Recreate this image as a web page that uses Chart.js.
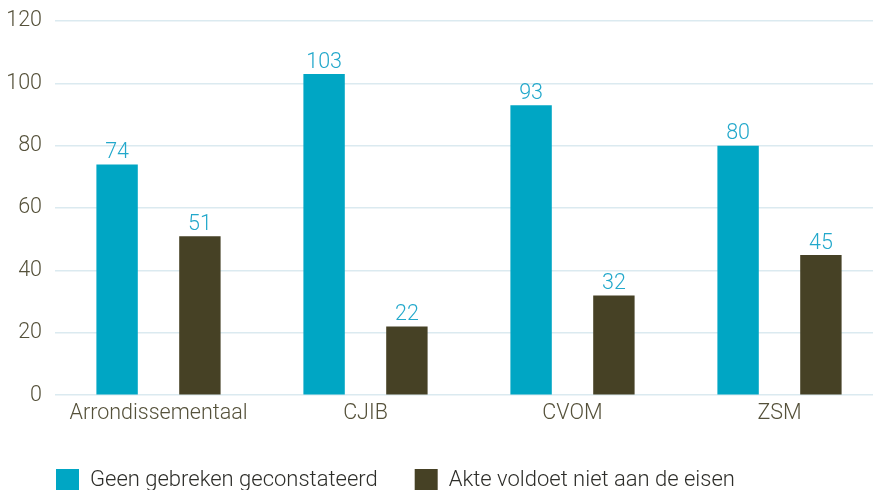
<!DOCTYPE html>
<html>
<head>
<meta charset="utf-8">
<script src="https://cdn.jsdelivr.net/npm/chart.js@4/dist/chart.umd.min.js"></script>
<style>
  html, body { margin: 0; padding: 0; overflow: hidden; background: #fff; }
  #wrap { width: 883px; height: 500px; }
</style>
</head>
<body>
<div id="wrap"><canvas id="bar-chart" width="883" height="500"></canvas></div>
<script>
const categories = ['Arrondissementaal', 'CJIB', 'CVOM', 'ZSM'];
const geenGebreken = [74, 103, 93, 80];
const akteVoldoetNiet = [51, 22, 32, 45];
const yTicks = [0, 20, 40, 60, 80, 100, 120];

const FONT = "'Roboto', 'Liberation Sans', sans-serif";
const FS = 21.5;

// value labels above each bar
const valueLabels = {
    id: 'valueLabels',
    afterDatasetsDraw(chart) {
        const ctx = chart.ctx;
        ctx.save();
        ctx.font = '300 ' + FS + 'px ' + FONT;
        ctx.fillStyle = '#22a8cb';
        ctx.textAlign = 'center';
        ctx.textBaseline = 'bottom';
        chart.data.datasets.forEach((ds, i) => {
            chart.getDatasetMeta(i).data.forEach((bar, j) => {
                ctx.fillText(ds.data[j], bar.x, bar.y - 1);
            });
        });
        ctx.restore();
    }
};

// nudge the legend so it lines up with the plot's left edge
const legendShift = {
    id: 'legendShift',
    afterLayout(chart) {
        chart.legend.left += 19;
        chart.legend.right += 19;
        chart.legend.top += 2;
        chart.legend.bottom += 2;
    }
};

new Chart(document.getElementById('bar-chart'), {
    type: 'bar',
    data: {
        labels: categories,
        datasets: [{
            label: 'Geen gebreken geconstateerd',
            data: geenGebreken,
            backgroundColor: '#00a6c4',
            categoryPercentage: 0.8,
            barPercentage: 0.5
        }, {
            label: 'Akte voldoet niet aan de eisen',
            data: akteVoldoetNiet,
            backgroundColor: '#464125',
            categoryPercentage: 0.8,
            barPercentage: 0.5
        }]
    },
    options: {
        responsive: false,
        animation: false,
        layout: { padding: { top: 21, left: 0, right: 0, bottom: 0 } },
        scales: {
            x: {
                afterFit: (axis) => { axis.height += 5; },
                grid: { display: false },
                border: { display: false },
                ticks: {
                    color: '#55513a',
                    font: { family: FONT, size: FS, weight: 300 },
                    padding: -2,
                    maxRotation: 0
                }
            },
            y: {
                min: 0,
                max: 120,
                afterFit: (axis) => {
                    axis.width = 55;
                    axis.paddingTop = 0;
                    axis.paddingBottom = 0;
                },
                afterBuildTicks: (axis) => { axis.ticks = yTicks.map(v => ({ value: v })); },
                grid: { color: '#dbeaf0', lineWidth: 1.5, drawTicks: false },
                border: { display: false },
                ticks: {
                    color: '#55513a',
                    font: { family: FONT, size: FS, weight: 300 },
                    padding: 13
                }
            }
        },
        plugins: {
            legend: {
                position: 'bottom',
                align: 'start',
                labels: {
                    boxWidth: 23,
                    boxHeight: 23,
                    padding: 37,
                    color: '#2e2e2a',
                    font: { family: FONT, size: 22, weight: 300 }
                }
            },
            tooltip: { enabled: false }
        }
    },
    plugins: [valueLabels, legendShift]
});
</script>
</body>
</html>
